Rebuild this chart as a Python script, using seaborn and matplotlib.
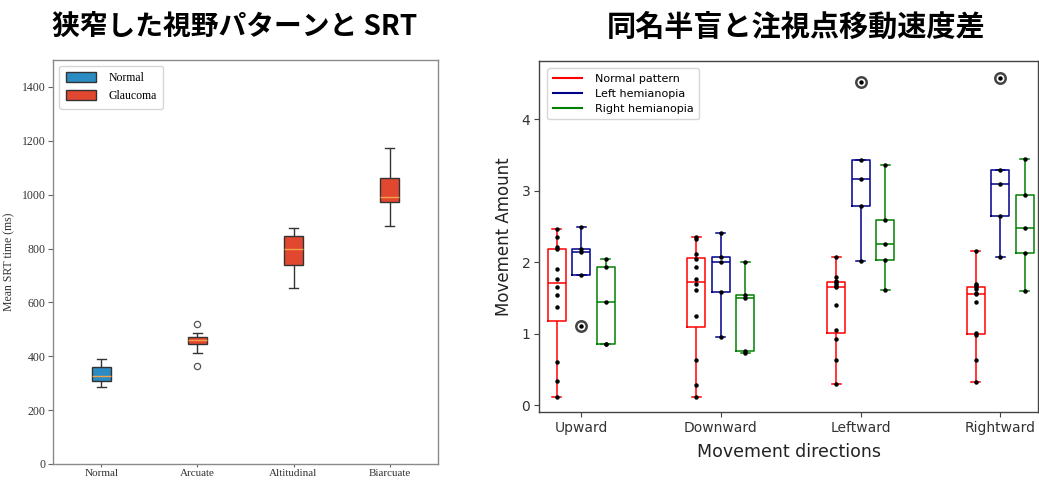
import matplotlib
matplotlib.use("Agg")
import matplotlib.pyplot as plt
import seaborn as sns
import pandas as pd
import numpy as np
from matplotlib.lines import Line2D
from matplotlib.patches import Patch

# ---------------- data: left chart (SRT by visual-field pattern) ----------------
srt_categories = ["Normal", "Arcuate", "Altitudinal", "Biarcuate"]
srt_groups = ["Normal", "Glaucoma", "Glaucoma", "Glaucoma"]
srt_normal = [285, 310, 328, 360, 390]
srt_arcuate = [365, 411, 444, 452, 459, 465, 471, 488, 521]
srt_altitudinal = [652, 739, 797, 847, 877]
srt_biarcuate = [884, 974, 993, 1062, 1173]
srt_ylabel = "Mean SRT time (ms)"
srt_yticks = [0, 200, 400, 600, 800, 1000, 1200, 1400]

# ---------------- data: right chart (movement amount) ----------------
directions = ["Upward", "Downward", "Leftward", "Rightward"]
patterns = ["Normal pattern", "Left hemianopia", "Right hemianopia"]
normal_up = [0.12, 0.34, 0.60, 1.37, 1.54, 1.66, 1.76, 1.90, 2.18, 2.22, 2.36, 2.46]
left_up = [1.11, 1.82, 2.15, 2.19, 2.49]
right_up = [0.85, 0.86, 1.44, 1.94, 2.04]
normal_down = [0.12, 0.29, 0.63, 1.25, 1.61, 1.69, 1.77, 1.94, 2.04, 2.11, 2.33, 2.35]
left_down = [0.95, 1.59, 2.00, 2.08, 2.41]
right_down = [0.73, 0.76, 1.50, 1.54, 2.01]
normal_left = [0.30, 0.63, 0.92, 1.05, 1.40, 1.65, 1.67, 1.70, 1.72, 1.74, 1.80, 2.07]
left_left = [2.02, 2.79, 3.16, 3.43, 4.52]
right_left = [1.61, 2.03, 2.26, 2.59, 3.36]
normal_right = [0.32, 0.63, 0.98, 1.01, 1.45, 1.55, 1.57, 1.63, 1.65, 1.68, 1.70, 2.16]
left_right = [2.08, 2.65, 3.09, 3.29, 4.58]
right_right = [1.60, 2.13, 2.48, 2.94, 3.45]
move_yticks = [0, 1, 2, 3, 4]

titles = ["狭窄した視野パターンと SRT", "同名半盲と注視点移動速度差"]

# ---------------- build frames ----------------
srt_values = [srt_normal, srt_arcuate, srt_altitudinal, srt_biarcuate]
rows = []
for cat, grp, vals in zip(srt_categories, srt_groups, srt_values):
    for v in vals:
        rows.append((cat, grp, v))
df_srt = pd.DataFrame(rows, columns=["pattern", "group", "value"])

move_values = {
    ("Upward", "Normal pattern"): normal_up, ("Upward", "Left hemianopia"): left_up,
    ("Upward", "Right hemianopia"): right_up,
    ("Downward", "Normal pattern"): normal_down, ("Downward", "Left hemianopia"): left_down,
    ("Downward", "Right hemianopia"): right_down,
    ("Leftward", "Normal pattern"): normal_left, ("Leftward", "Left hemianopia"): left_left,
    ("Leftward", "Right hemianopia"): right_left,
    ("Rightward", "Normal pattern"): normal_right, ("Rightward", "Left hemianopia"): left_right,
    ("Rightward", "Right hemianopia"): right_right,
}
dodge_step = 0.175  # style: spacing of hue boxes within a direction
rows = []
for (d, p), vals in move_values.items():
    pos = directions.index(d) + (patterns.index(p) - 1) * dodge_step
    for v in vals:
        rows.append((d, p, round(pos, 6), v))
df_move = pd.DataFrame(rows, columns=["direction", "pattern", "pos", "value"])

# ---------------- figure ----------------
W, H = 1039, 480
fig = plt.figure(figsize=(W / 100, H / 100), dpi=100)
fig.patch.set_facecolor("white")

def px_axes(l, r, t, b):
    return fig.add_axes([l / W, 1 - b / H, (r - l) / W, (b - t) / H])

serif = ["Liberation Serif", "DejaVu Serif"]
cjk = ["Noto Sans CJK JP", "DejaVu Sans"]

# ---- left chart ----
ax1 = px_axes(53.3, 437.7, 60, 464)
c_blue, c_red = "#2b8cc4", "#e2472f"
sns.boxplot(data=df_srt, x="pattern", y="value", hue="group", dodge=False,
            palette={"Normal": c_blue, "Glaucoma": c_red}, saturation=1,
            width=0.2, linewidth=1.0, linecolor="#333333",
            medianprops=dict(color="#f3a24a", linewidth=1.0),
            flierprops=dict(marker="o", markersize=4.5, markerfacecolor="none",
                            markeredgecolor="#555555", markeredgewidth=0.9),
            legend=False, ax=ax1)
ax1.set_ylim(0, 1500)
ax1.set_xlim(-0.5, 3.5)
ax1.set_yticks(srt_yticks)
ax1.set_yticklabels([str(t) for t in srt_yticks], fontfamily=serif, fontsize=8.5, color="#333333")
ax1.set_xticks(range(len(srt_categories)))
ax1.set_xticklabels(srt_categories, fontfamily=serif, fontsize=8, color="#333333")
ax1.set_xlabel("")
ax1.set_ylabel(srt_ylabel, fontfamily=serif, fontsize=8.5, color="#333333", labelpad=5)
for s in ax1.spines.values():
    s.set_color("#8a8a8a")
    s.set_linewidth(1.0)
ax1.tick_params(axis="y", direction="out", length=3.5, width=0.8, color="#666666", pad=2)
ax1.tick_params(axis="x", direction="out", length=2.5, width=0.8, color="#666666", pad=1)
leg1 = ax1.legend(handles=[Patch(facecolor=c_blue, edgecolor="#333333", label="Normal"),
                           Patch(facecolor=c_red, edgecolor="#333333", label="Glaucoma")],
                  loc="upper left", prop={"family": serif, "size": 8.5},
                  frameon=True, fancybox=True, handlelength=2.6, handleheight=0.9,
                  borderpad=0.55, labelspacing=0.5, handletextpad=1.0,
                  bbox_to_anchor=(0.0, 1.0))
leg1.get_frame().set_edgecolor("#cccccc")

# ---- right chart ----
ax2 = px_axes(539.3, 1038, 61, 411.7)
pal = {"Normal pattern": "red", "Left hemianopia": "darkblue", "Right hemianopia": "green"}
sns.boxplot(data=df_move, x="pos", y="value", hue="pattern", hue_order=patterns,
            native_scale=True, dodge=False, width=0.74, fill=False, palette=pal,
            linewidth=1.1,
            flierprops=dict(marker="o", markersize=7.5, markerfacecolor="none",
                            markeredgecolor="#444444", markeredgewidth=1.8),
            legend=False, ax=ax2)
sns.stripplot(data=df_move, x="pos", y="value", native_scale=True, jitter=False,
              color="black", size=3.2, zorder=4, ax=ax2)
ax2.set_xlim(-0.30, 3.27)
ax2.set_ylim(-0.09, 4.815)
ax2.set_xticks(range(len(directions)))
ax2.set_xticklabels(directions, fontsize=10, color="#333333")
ax2.set_yticks(move_yticks)
ax2.set_yticklabels([str(t) for t in move_yticks], fontsize=10, color="#333333")
ax2.set_xlabel("Movement directions", fontsize=12.5, color="#222222", labelpad=6)
ax2.set_ylabel("Movement Amount", fontsize=12, color="#222222", labelpad=6)
for s in ax2.spines.values():
    s.set_color("#444444")
    s.set_linewidth(1.0)
ax2.tick_params(direction="out", length=3.5, width=0.8, color="#444444", pad=3)
leg2 = ax2.legend(handles=[Line2D([], [], color=pal[p], lw=1.5, label=p) for p in patterns],
                  loc="upper left", fontsize=8, frameon=True, fancybox=True,
                  handlelength=2.6, borderpad=0.5, labelspacing=0.45, handletextpad=1.2,
                  bbox_to_anchor=(0.005, 0.995))
leg2.get_frame().set_edgecolor("#cccccc")

# ---- titles ----
fig.text(235 / W, 1 - 27 / H, titles[0], ha="center", va="center", fontsize=20,
         fontweight="bold", family=cjk, color="black")
fig.text(796 / W, 1 - 27 / H, titles[1], ha="center", va="center", fontsize=21,
         fontweight="bold", family=cjk, color="black")

fig.savefig("out.png", dpi=100, facecolor="white")
